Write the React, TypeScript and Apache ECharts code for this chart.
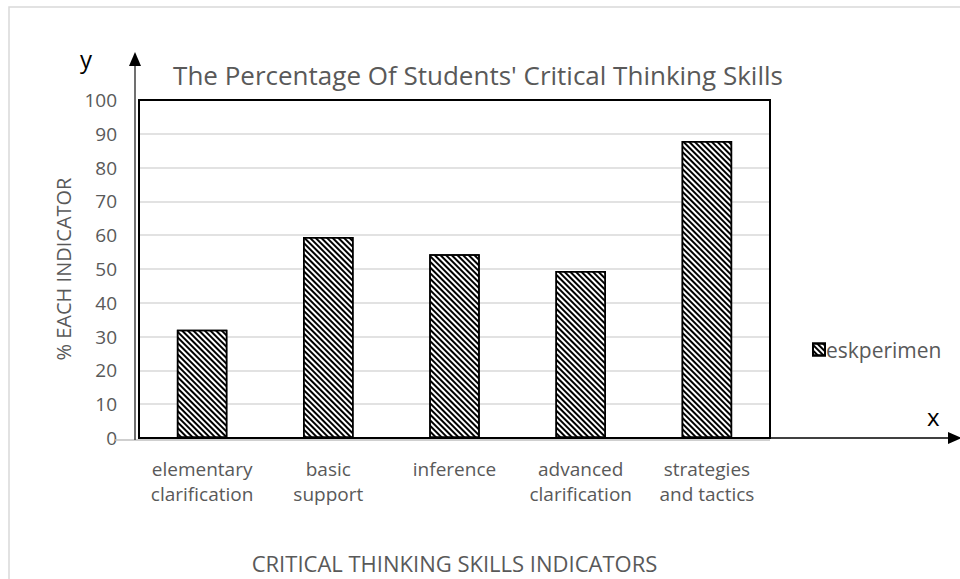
import React, { useEffect, useRef } from "react";
import * as echarts from "echarts";

const categories = [
  "elementary\nclarification",
  "basic\nsupport",
  "inference",
  "advanced\nclarification",
  "strategies\nand tactics",
];
const seriesName = "eskperimen";
const values = [32, 59.5, 54.4, 49.4, 87.9];
const yTicks = { min: 0, max: 100, interval: 10 };
const titleText = "The Percentage Of Students' Critical Thinking Skills";
const xAxisName = "CRITICAL THINKING SKILLS INDICATORS";
const yAxisName = "% EACH INDICATOR";

const FONT = "'Open Sans', sans-serif";
const GRAY = "#595959";
const G = { left: 139, top: 100, right: 190, bottom: 141 };

export default function App() {
  const ref = useRef<HTMLDivElement>(null);
  useEffect(() => {
    if (!ref.current) return;
    const chart = echarts.init(ref.current, undefined, { renderer: "svg" });
    const W = 960, H = 579;
    const gx0 = G.left, gx1 = W - G.right, gy0 = G.top, gy1 = H - G.bottom;
    const decal = {
      symbol: "rect",
      symbolSize: 1,
      color: "#000",
      dashArrayX: [1, 0],
      dashArrayY: [2, 2],
      rotation: Math.PI / 4,
    };
    chart.setOption({
      animation: false,
      backgroundColor: "#fff",
      title: {
        text: titleText,
        left: 473,
        textAlign: "center",
        top: 57,
        textStyle: { fontFamily: FONT, fontSize: 26, fontWeight: "normal", color: GRAY },
      },
      legend: {
        left: 807,
        top: 334,
        orient: "vertical",
        itemWidth: 12,
        itemHeight: 12,
        itemGap: 4,
        icon: "rect",
        textStyle: { fontFamily: FONT, fontSize: 21, color: GRAY, padding: [0, 0, 0, -4] },
        data: [seriesName],
      },
      grid: {
        left: G.left,
        right: G.right,
        top: G.top,
        bottom: G.bottom,
        show: false,
      },
      xAxis: {
        type: "category",
        data: categories,
        name: xAxisName,
        nameLocation: "middle",
        nameGap: 114,
        nameTextStyle: { fontFamily: FONT, fontSize: 22, color: GRAY },
        axisLine: { show: false },
        axisTick: { show: false },
        axisLabel: {
          fontFamily: FONT,
          fontSize: 19,
          color: GRAY,
          margin: 18,
          lineHeight: 25,
          interval: 0,
        },
      },
      yAxis: {
        type: "value",
        min: yTicks.min,
        max: yTicks.max,
        interval: yTicks.interval,
        name: yAxisName,
        nameLocation: "middle",
        nameGap: 66,
        nameRotate: 90,
        nameTextStyle: { fontFamily: FONT, fontSize: 20, color: GRAY },
        axisLine: { show: false },
        axisTick: { show: false },
        axisLabel: { fontFamily: FONT, fontSize: 19, color: GRAY, margin: 22 },
        splitLine: { lineStyle: { color: "#d9d9d9", width: 1.5 } },
      },
      series: [
        {
          name: seriesName,
          type: "bar",
          data: values,
          barWidth: "40%",
          itemStyle: { color: "#fff", borderColor: "#000", borderWidth: 1.5, decal },
        },
      ],
      graphic: [
        {
          type: "rect",
          shape: { x: 9, y: 7, width: 1100, height: 700 },
          style: { fill: "none", stroke: "#d9d9d9", lineWidth: 1.5 },
          silent: true,
          z: -10,
        },
        {
          type: "line",
          shape: { x1: gx0 - 24, y1: gy1 + 2, x2: gx1, y2: gy1 + 2 },
          style: { stroke: "#bfbfbf", lineWidth: 1.5 },
          z: 9,
        },
        {
          type: "rect",
          shape: { x: gx0, y: gy0, width: gx1 - gx0, height: gy1 - gy0 },
          style: { fill: "none", stroke: "#000", lineWidth: 2 },
          silent: true,
          z: 10,
        },
        {
          type: "line",
          shape: { x1: gx0 - 4, y1: gy1 + 2, x2: gx0 - 4, y2: 64 },
          style: { stroke: "#404040", lineWidth: 1.5 },
          z: 10,
        },
        {
          type: "polygon",
          shape: { points: [[gx0 - 4, 52], [gx0 - 10, 66], [gx0 + 2, 66]] },
          style: { fill: "#000" },
          z: 10,
        },
        {
          type: "line",
          shape: { x1: gx1, y1: gy1, x2: 950, y2: gy1 },
          style: { stroke: "#000", lineWidth: 1.5 },
          z: 10,
        },
        {
          type: "polygon",
          shape: { points: [[962, gy1], [948, gy1 - 6], [948, gy1 + 6]] },
          style: { fill: "#000" },
          z: 10,
        },
        {
          type: "text",
          x: 80,
          y: 46,
          style: { text: "y", font: `24px ${FONT}`, fill: "#000" },
        },
        {
          type: "text",
          x: 927,
          y: 404,
          style: { text: "x", font: `24px ${FONT}`, fill: "#000" },
        },
      ],
    });
    return () => chart.dispose();
  }, []);
  return (
    <div
      ref={ref}
      style={{ position: "absolute", left: 0, top: 0, width: 960, height: 579 }}
    />
  );
}
